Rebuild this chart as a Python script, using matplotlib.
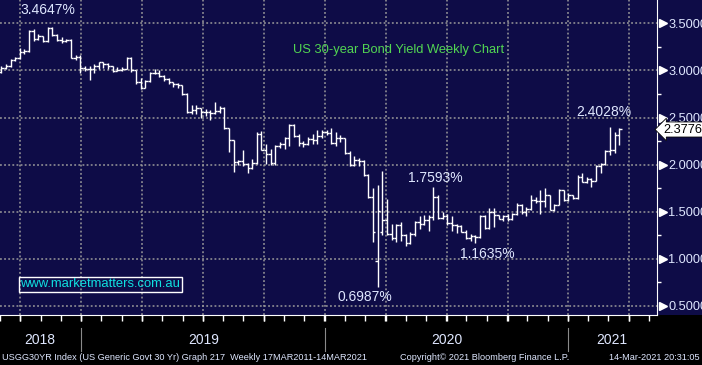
import numpy as np
import matplotlib
matplotlib.use("Agg")
import matplotlib.pyplot as plt
import matplotlib.transforms as mtransforms
from matplotlib.patches import Rectangle

# ---------- Datos: barras semanales (apertura, máximo, mínimo, cierre) ----------
opens = [2.98, 3.03, 3.05, 3.11, 3.13, 3.20, 3.21, 3.42, 3.33, 3.37,
         3.31, 3.45, 3.38, 3.32, 3.31, 3.32, 3.13, 3.14, 3.03, 3.02,
         3.02, 3.05, 3.09, 3.07, 3.05, 2.99, 3.00, 3.02, 3.13, 3.00,
         2.88, 2.81, 2.89, 2.97, 2.97, 2.94, 2.91, 2.88, 2.86, 2.84,
         2.75, 2.56, 2.58, 2.60, 2.56, 2.56, 2.55, 2.57, 2.60, 2.39,
         2.26, 2.03, 2.04, 2.01, 1.96, 2.02, 2.33, 2.16, 2.11, 2.02,
         2.20, 2.22, 2.28, 2.42, 2.30, 2.23, 2.22, 2.27, 2.26, 2.30,
         2.35, 2.34, 2.23, 2.28, 2.28, 2.12, 2.00, 2.05, 2.04, 1.89,
         1.66, 0.98, 1.29, 1.41, 1.26, 1.22, 1.36, 1.25, 1.17, 1.26,
         1.39, 1.37, 1.41, 1.44, 1.66, 1.43, 1.45, 1.38, 1.36, 1.35,
         1.29, 1.22, 1.24, 1.23, 1.45, 1.33, 1.50, 1.47, 1.42, 1.45,
         1.42, 1.48, 1.57, 1.50, 1.53, 1.62, 1.61, 1.61, 1.68, 1.52,
         1.57, 1.73, 1.62, 1.68, 1.65, 1.87, 1.82, 1.85, 1.83, 1.99,
         2.01, 2.14, 2.15, 2.31]
highs = [3.05, 3.07, 3.12, 3.14, 3.24, 3.23, 3.43, 3.44, 3.39, 3.37,
         3.4647, 3.46, 3.39, 3.35, 3.33, 3.33, 3.16, 3.16, 3.05, 3.05,
         3.07, 3.09, 3.09, 3.08, 3.05, 3.04, 3.04, 3.14, 3.14, 3.00,
         2.92, 2.90, 2.98, 3.01, 3.00, 2.95, 2.92, 2.88, 2.87, 2.84,
         2.76, 2.63, 2.63, 2.60, 2.59, 2.58, 2.66, 2.62, 2.61, 2.39,
         2.26, 2.05, 2.15, 2.02, 2.06, 2.35, 2.36, 2.22, 2.17, 2.21,
         2.24, 2.29, 2.43, 2.43, 2.33, 2.25, 2.29, 2.33, 2.37, 2.37,
         2.37, 2.39, 2.35, 2.31, 2.28, 2.14, 2.09, 2.07, 2.05, 1.90,
         1.75, 1.78, 1.93, 1.63, 1.37, 1.37, 1.39, 1.26, 1.29, 1.40,
         1.45, 1.46, 1.47, 1.7593, 1.68, 1.50, 1.48, 1.45, 1.37, 1.36,
         1.31, 1.26, 1.25, 1.46, 1.46, 1.54, 1.54, 1.47, 1.46, 1.48,
         1.49, 1.59, 1.58, 1.55, 1.68, 1.66, 1.73, 1.75, 1.68, 1.58,
         1.74, 1.73, 1.70, 1.68, 1.89, 1.91, 1.87, 1.86, 2.00, 2.02,
         2.15, 2.4028, 2.35, 2.39]
lows = [2.97, 3.02, 3.04, 3.10, 3.12, 3.17, 3.20, 3.31, 3.32, 3.30,
        3.30, 3.37, 3.31, 3.29, 3.30, 3.13, 3.11, 2.97, 2.99, 2.90,
        2.97, 3.02, 3.03, 3.01, 2.98, 2.99, 2.99, 3.01, 2.98, 2.86,
        2.80, 2.81, 2.88, 2.96, 2.93, 2.89, 2.86, 2.82, 2.81, 2.74,
        2.55, 2.54, 2.54, 2.49, 2.52, 2.47, 2.54, 2.55, 2.38, 2.13,
        1.92, 2.00, 1.99, 1.91, 1.95, 2.01, 2.15, 2.01, 2.00, 2.00,
        2.18, 2.17, 2.20, 2.29, 2.20, 2.19, 2.21, 2.22, 2.22, 2.28,
        2.31, 2.22, 2.20, 2.24, 2.11, 1.99, 1.99, 1.99, 1.88, 1.65,
        1.18, 0.6987, 1.25, 1.25, 1.20, 1.18, 1.19, 1.14, 1.16, 1.24,
        1.32, 1.36, 1.30, 1.41, 1.42, 1.42, 1.36, 1.30, 1.27, 1.28,
        1.21, 1.19, 1.1635, 1.22, 1.32, 1.32, 1.34, 1.42, 1.40, 1.40,
        1.41, 1.47, 1.48, 1.455, 1.52, 1.59, 1.48, 1.55, 1.52, 1.51,
        1.57, 1.61, 1.61, 1.63, 1.64, 1.82, 1.81, 1.76, 1.83, 1.91,
        2.00, 2.10, 2.12, 2.21]
closes = [3.03, 3.05, 3.11, 3.13, 3.20, 3.21, 3.42, 3.33, 3.37, 3.31,
          3.45, 3.38, 3.32, 3.31, 3.32, 3.13, 3.14, 3.03, 3.02, 3.02,
          3.05, 3.09, 3.07, 3.05, 2.99, 3.00, 3.02, 3.13, 3.00, 2.88,
          2.81, 2.89, 2.97, 2.97, 2.94, 2.91, 2.88, 2.86, 2.84, 2.75,
          2.56, 2.58, 2.60, 2.56, 2.56, 2.55, 2.57, 2.60, 2.39, 2.26,
          2.03, 2.04, 2.01, 1.96, 2.02, 2.33, 2.16, 2.11, 2.02, 2.20,
          2.22, 2.28, 2.42, 2.30, 2.23, 2.22, 2.27, 2.26, 2.30, 2.35,
          2.34, 2.23, 2.28, 2.28, 2.12, 2.00, 2.05, 2.04, 1.89, 1.66,
          1.29, 1.51, 1.41, 1.26, 1.22, 1.36, 1.25, 1.17, 1.26, 1.39,
          1.37, 1.41, 1.44, 1.66, 1.43, 1.45, 1.38, 1.36, 1.35, 1.29,
          1.22, 1.24, 1.23, 1.45, 1.33, 1.50, 1.47, 1.42, 1.45, 1.42,
          1.48, 1.57, 1.50, 1.53, 1.62, 1.61, 1.61, 1.68, 1.52, 1.57,
          1.73, 1.62, 1.68, 1.65, 1.87, 1.82, 1.85, 1.83, 1.99, 2.01,
          2.14, 2.15, 2.31, 2.3776]

# posiciones de trimestres (en barras) y etiquetas de años
quarter_pos = [4.1, 17.2, 30.3, 43.4, 56.6, 69.7, 82.8, 95.9, 109.0, 121.9, 135.0]
year_bounds = [17.2, 69.7, 121.9]
years = ["2018", "2019", "2020", "2021"]
year_centers = [8.4, 43.5, 95.8, 131.3]
y_ticks = [0.5, 1.0, 1.5, 2.0, 2.5, 3.0, 3.5]

# anotaciones: texto, x (barra), y (rendimiento)
notes = [("3.4647%", 4.1, 3.64, "left"),
         ("1.7593%", 93.3, 1.86, "center"),
         ("1.1635%", 104.6, 1.05, "center"),
         ("0.6987%", 78.3, 0.595, "center"),
         ("2.4028%", 129.6, 2.56, "center")]
last_value = "2.3776"

navy = "#0e0c47"
txt_col = "#dfe7ff"
font = ["Liberation Sans", "DejaVu Sans"]

fig = plt.figure(figsize=(7.02, 3.65), dpi=100, facecolor=navy)
fig.patches.append(Rectangle((0, 0), 1, 50 / 365, transform=fig.transFigure,
                             facecolor="black", edgecolor="none", zorder=-5))
ax = fig.add_axes([0, 50 / 365, 657 / 702, 315 / 365])
ax.set_facecolor(navy)

idx = np.arange(len(closes))
ax.vlines(idx, lows, highs, color="white", lw=1.0, zorder=3)
ax.hlines(opens, idx - 0.5, idx, color="white", lw=1.0, zorder=3)
ax.hlines(closes, idx, idx + 0.5, color="white", lw=1.0, zorder=3)

ax.set_xlim(-0.215, 141.1)
ax.set_ylim(0.404, 3.747)

# rejilla punteada
for q in quarter_pos:
    ax.axvline(q, color="#9a9a9a", lw=1.1, ls=(0, (1.2, 1.5)), zorder=1)
for yv in y_ticks:
    ax.axhline(yv, color="#9a9a9a", lw=1.1, ls=(0, (1.2, 1.5)), zorder=1)

# ejes
for s in ["top", "left"]:
    ax.spines[s].set_visible(False)
ax.spines["right"].set_color("white")
ax.spines["bottom"].set_color("white")

ax.yaxis.tick_right()
ax.set_yticks(y_ticks)
ax.set_yticklabels([f"{v:.4f}" for v in y_ticks], color=txt_col,
                   family=font, fontsize=9.2)
ax.set_yticks([0.75, 1.25, 1.75, 2.25, 2.75, 3.25], minor=True)
ax.tick_params(axis="y", which="major", length=0, pad=8)
ax.tick_params(axis="y", which="minor", length=3, color="white", width=1)

ax.set_xticks(quarter_pos)
ax.set_xticks(np.arange(-0.26, 141, 13.09 / 3), minor=True)
ax.set_xticklabels([])
ax.tick_params(axis="x", which="both", length=4, color="white", width=1)

# triángulos en las marcas principales
tr = mtransforms.blended_transform_factory(ax.transAxes, ax.transData)
ax.plot([1.0085] * len(y_ticks), y_ticks, ls="none", marker=">", ms=5.5,
        color="white", transform=tr, clip_on=False, zorder=5)

# años y separadores
trx = mtransforms.blended_transform_factory(ax.transData, ax.transAxes)
for b in year_bounds:
    ax.plot([b, b], [-0.04, -0.115], color="#8a8a8a", lw=0.8,
            transform=trx, clip_on=False)
for yr, xc in zip(years, year_centers):
    ax.text(xc, -0.079, yr, transform=trx, ha="center", va="center",
            color=txt_col, family=font, fontsize=10)

# título y anotaciones
ax.text(85.6, 3.215, "US 30-year Bond Yield Weekly Chart", color="#52d652",
        family=font, fontsize=9.3, ha="center", va="center")
for label, xv, yv, ha in notes:
    ax.text(xv, yv, label, color=txt_col, family=font, fontsize=10,
            ha=ha, va="center")

ax.text(0.031, 0.098, "www.marketmatters.com.au", transform=ax.transAxes,
        color="#10e0e0", family=font, fontsize=9.4, ha="left", va="center",
        bbox=dict(boxstyle="square,pad=0.12", fc="none", ec="white", lw=1))

# etiqueta del último valor
fig.text(663 / 702, 1 - 129.5 / 365, last_value, color="black", family=font,
         fontsize=9.2, ha="left", va="center",
         bbox=dict(boxstyle="larrow,pad=0.12", fc="white", ec="black", lw=0.6))

# pie de página
foot = 6.6
fig.text(2 / 702, 8 / 365,
         "USGG30YR Index (US Generic Govt 30 Yr) Graph 217  Weekly 17MAR2011-14MAR2021",
         color=txt_col, family=font, fontsize=foot, ha="left", va="center")
fig.text(400 / 702, 8 / 365, "Copyright\u00a9 2021 Bloomberg Finance L.P.",
         color=txt_col, family=font, fontsize=foot, ha="left", va="center")
fig.text(700 / 702, 8 / 365, "14-Mar-2021 20:31:05", color=txt_col,
         family=font, fontsize=foot, ha="right", va="center")

fig.savefig("out.png", dpi=100, facecolor=navy)
